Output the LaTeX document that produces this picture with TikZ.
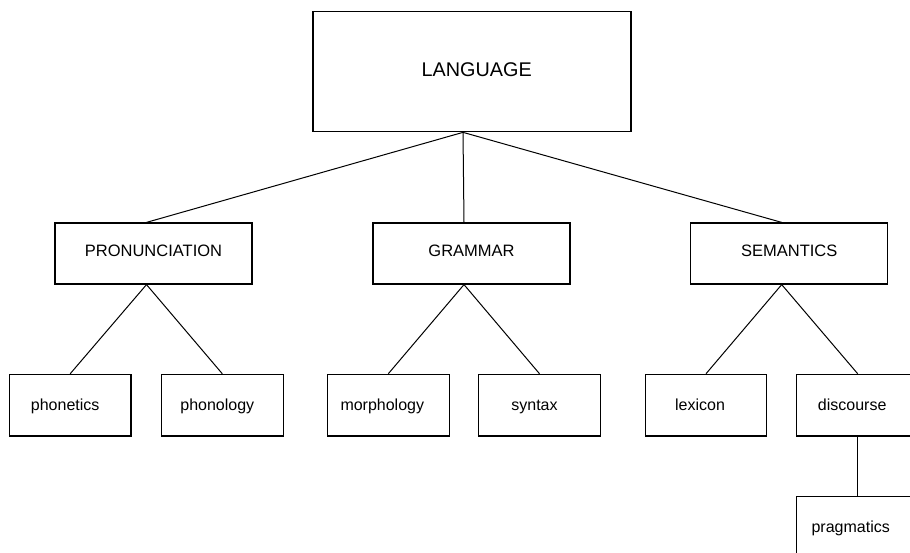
\documentclass[tikz,border=0pt]{standalone}
\usepackage{fontspec}
\setmainfont{Liberation Sans}
\usetikzlibrary{calc}
\begin{document}
\begin{tikzpicture}[x=1pt,y=1pt,
  box/.style={draw, line width=1.2pt, inner sep=0pt, font=\fontsize{16}{19}\selectfont},
  topbox/.style={box, minimum width=318pt, minimum height=120.5pt, font=\fontsize{19.8}{23}\selectfont, text height=14pt, text depth=4pt},
  midbox/.style={box, minimum width=197pt, minimum height=61pt, font=\fontsize{16.5}{19}\selectfont, text height=11pt, text depth=4.6pt},
  leafbox/.style={box, minimum width=121.7pt, minimum height=61.7pt, text height=15pt, text depth=4pt},
  link/.style={line width=1pt}]
\useasboundingbox (0,0) rectangle (910,-553);
\clip (0,0) rectangle (910,-553);
\node[topbox] (lang) at (472,-71.5) {\hspace*{9.4pt}LANGUAGE};
\node[midbox] (pron) at (153.5,-253.5) {PRONUNCIATION};
\node[midbox] (gram) at (471.5,-253.5) {GRAMMAR};
\node[midbox] (sem) at (789.2,-253.5) {SEMANTICS};
\node[leafbox] (phonet) at (70.2,-405.2) {phonetics\hspace*{10pt}};
\node[leafbox] (phonol) at (222.3,-405.2) {phonology\hspace*{10pt}};
\node[leafbox] (morph) at (388.3,-405.2) {morphology\hspace*{12pt}};
\node[leafbox] (syn) at (539.5,-405.2) {syntax\hspace*{10pt}};
\node[leafbox] (lex) at (706,-405.2) {lexicon\hspace*{12pt}};
\node[leafbox] (disc) at (857.7,-405.2) {discourse\hspace*{11pt}};
\node[leafbox] (prag) at (857.7,-527) {pragmatics\hspace*{14pt}};
\coordinate (lb) at ($(lang.south)+(-9,0)$);
\draw[link] (lb) -- ($(pron.north)+(-7,0)$);
\draw[link] (lb) -- ($(gram.north)+(-7.5,0)$);
\draw[link] (lb) -- ($(sem.north)+(-7.5,0)$);
\draw[link] ($(pron.south)+(-7,0)$) -- (phonet.north);
\draw[link] ($(pron.south)+(-7,0)$) -- (phonol.north);
\draw[link] ($(gram.south)+(-7.5,0)$) -- (morph.north);
\draw[link] ($(gram.south)+(-7.5,0)$) -- (syn.north);
\draw[link] ($(sem.south)+(-7.5,0)$) -- (lex.north);
\draw[link] ($(sem.south)+(-7.5,0)$) -- (disc.north);
\draw[link] (disc.south) -- (prag.north);
\end{tikzpicture}
\end{document}
